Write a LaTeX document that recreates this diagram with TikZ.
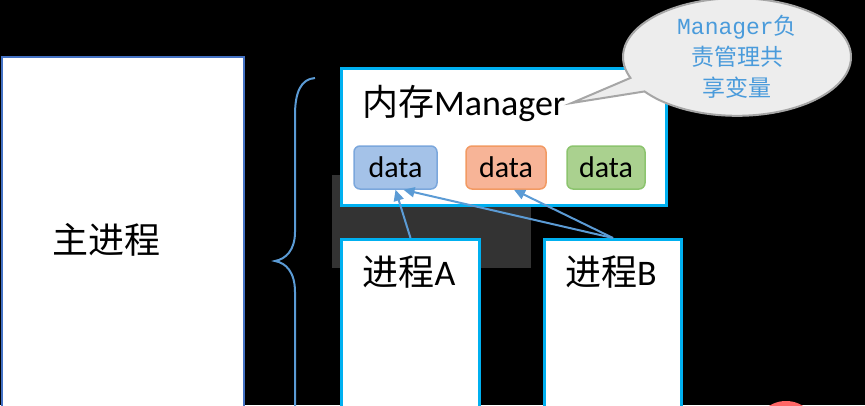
\documentclass[tikz,border=0pt]{standalone}
\usepackage{fontspec}
\setmainfont{Carlito}
\newfontfamily\cjk{Noto Sans CJK SC}
\newfontfamily\mono{Liberation Mono}
\usetikzlibrary{arrows.meta,shapes.callouts}

\definecolor{mainblue}{HTML}{4472C4}
\definecolor{boxcyan}{HTML}{00B0F0}
\definecolor{arrowblue}{HTML}{5B9BD5}
\definecolor{darkgray}{HTML}{333333}
\definecolor{blueface}{HTML}{A4C2E8}
\definecolor{blueedge}{HTML}{7BA7DC}
\definecolor{orangeface}{HTML}{F7B497}
\definecolor{orangeedge}{HTML}{F29A63}
\definecolor{greenface}{HTML}{AAD18F}
\definecolor{greenedge}{HTML}{8CC46E}
\definecolor{notetext}{HTML}{4A9BDB}
\definecolor{noteface}{HTML}{EDEDED}
\definecolor{noteedge}{HTML}{A6A6A6}
\definecolor{dotred}{HTML}{FF6666}

\begin{document}
\begin{tikzpicture}[x=1pt,y=-1pt,
  bigtxt/.style={font=\fontsize{36}{40}\selectfont, inner sep=0},
  mainbox/.style={draw=mainblue, fill=white, line width=2, anchor=north west},
  procbox/.style={draw=boxcyan, fill=white, line width=3, anchor=north west},
  databox/.style={rounded corners=6, line width=1.5, minimum width=80, minimum height=43,
    inner sep=0, font=\fontsize{30}{34}\selectfont},
  arr/.style={draw=arrowblue, line width=2, -{Triangle[length=11,width=10]}},
  bubble/.style={ellipse callout, draw=noteedge, fill=noteface, line width=2,
    minimum width=228, minimum height=106, inner sep=0, align=center,
    text=notetext, font=\fontsize{23}{31}\selectfont}]
  \useasboundingbox (0,0) rectangle (865,405);
  \clip (0,0) rectangle (865,405);
  \fill[black] (0,0) rectangle (865,405);

  % dark patch behind
  \fill[darkgray] (332,175) rectangle (531,268);

  % main process
  \node[mainbox, minimum width=242, minimum height=400] (main) at (1,56) {};
  \node[bigtxt] (mainlbl) at (106,240) {\cjk 主进程};

  % brace
  \draw[arrowblue, line width=2] (315,78) .. controls (301,79) and (295,92) .. (295,115)
    -- (295,232) .. controls (295,250) and (286,259) .. (275,261)
    .. controls (286,263) and (295,272) .. (295,292) -- (295,410);

  % manager
  \node[procbox, minimum width=325, minimum height=137] (mgr) at (340,67) {};
  \node[bigtxt, anchor=west] (mgrlbl) at (362,103) {{\cjk 内存}Manager};

  % shared data
  \node[databox, draw=blueedge, fill=blueface, minimum width=83] (d1) at (395.5,167.5) {data};
  \node[databox, draw=orangeedge, fill=orangeface] (d2) at (506,167.5) {data};
  \node[databox, draw=greenedge, fill=greenface, minimum width=78] (d3) at (606,167.5) {data};

  % processes
  \node[procbox, minimum width=138, minimum height=200] (procA) at (340,238) {};
  \node[bigtxt] (lblA) at (409,272) {{\cjk 进程}A};
  \node[procbox, minimum width=137, minimum height=200] (procB) at (543,238) {};
  \node[bigtxt] (lblB) at (611,272) {{\cjk 进程}B};

  % access
  \draw[arr] (procA.north) -- (d1.south);
  \draw[arr] (procB.north) -- ([xshift=8]d1.south);
  \draw[arr] (procB.north) -- ([xshift=8]d2.south);

  % note
  \node[bubble, callout absolute pointer={([xshift=6]mgrlbl.east)}] (note) at (737,57)
    {{\mono Manager}{\cjk 负}\\{\cjk 责管理共}\\{\cjk 享变量}};

  \fill[dotred] (786,433) circle (32);
\end{tikzpicture}
\end{document}
